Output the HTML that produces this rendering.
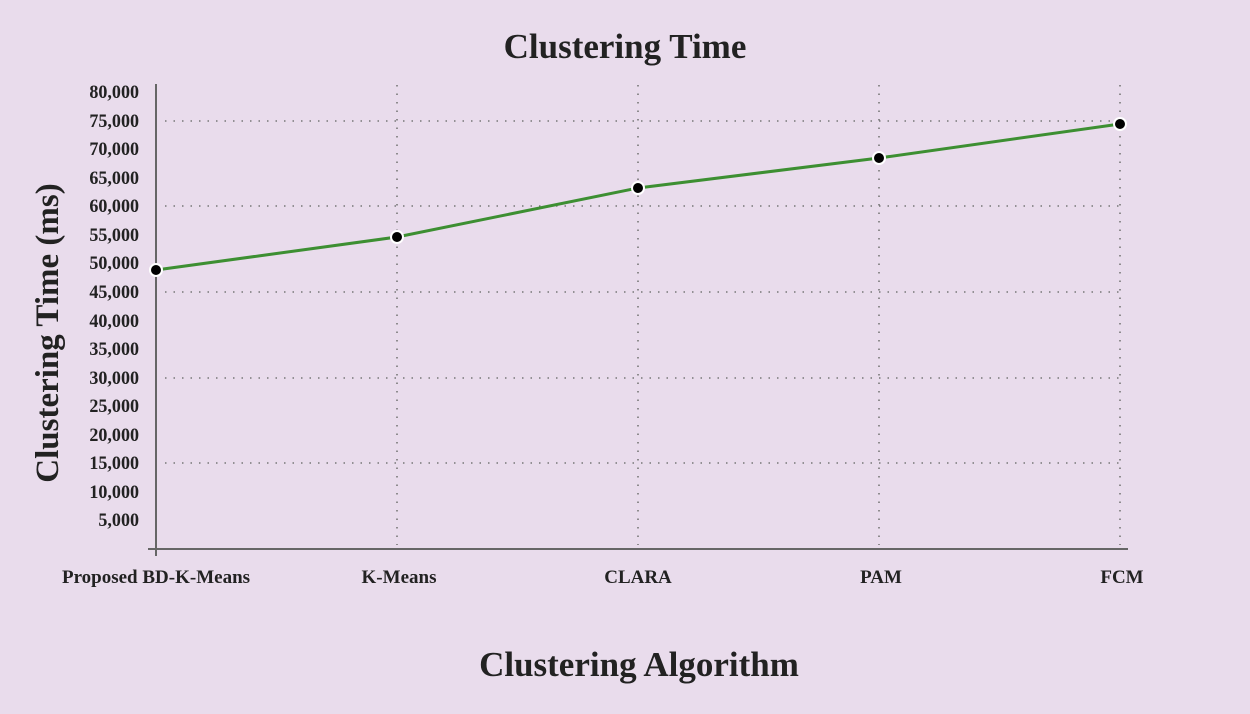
<!DOCTYPE html>
<html><head><style>
html,body{margin:0;padding:0;background:#e9dcec;}
svg{display:block;font-family:"Liberation Serif",serif;font-weight:bold;}
</style></head><body>
<svg width="1250" height="714" viewBox="0 0 1250 714">
<rect width="1250" height="714" fill="#e9dcec"/>
<text x="625" y="58" text-anchor="middle" font-size="35" fill="#222">Clustering Time</text>
<text x="639" y="676" text-anchor="middle" font-size="35" fill="#222">Clustering Algorithm</text>
<text transform="translate(58,333) rotate(-90)" text-anchor="middle" font-size="33" fill="#222">Clustering Time (ms)</text>
<g stroke="#777" stroke-width="1.6" stroke-dasharray="1.5,7">
<line x1="165" y1="121" x2="1125" y2="121"/>
<line x1="165" y1="206" x2="1125" y2="206"/>
<line x1="165" y1="292" x2="1125" y2="292"/>
<line x1="165" y1="378" x2="1125" y2="378"/>
<line x1="165" y1="463" x2="1125" y2="463"/>
<line x1="397" y1="85" x2="397" y2="545"/>
<line x1="638" y1="85" x2="638" y2="545"/>
<line x1="879" y1="85" x2="879" y2="545"/>
<line x1="1120" y1="85" x2="1120" y2="545"/>
</g>
<line x1="156" y1="84" x2="156" y2="556" stroke="#666" stroke-width="2"/>
<line x1="148" y1="549" x2="1128" y2="549" stroke="#666" stroke-width="2"/>
<g font-size="19" fill="#222" text-anchor="end" transform="translate(139,0) scale(0.95,1) translate(-139,0)">
<text x="139" y="98">80,000</text><text x="139" y="127">75,000</text><text x="139" y="155">70,000</text>
<text x="139" y="184">65,000</text><text x="139" y="212">60,000</text><text x="139" y="241">55,000</text>
<text x="139" y="269">50,000</text><text x="139" y="298">45,000</text><text x="139" y="327">40,000</text>
<text x="139" y="355">35,000</text><text x="139" y="384">30,000</text><text x="139" y="412">25,000</text>
<text x="139" y="441">20,000</text><text x="139" y="469">15,000</text><text x="139" y="498">10,000</text>
<text x="139" y="526">5,000</text>
</g>
<g font-size="19" fill="#222" text-anchor="middle">
<text x="156" y="583">Proposed BD-K-Means</text><text x="399" y="583">K-Means</text>
<text x="638" y="583">CLARA</text><text x="881" y="583">PAM</text><text x="1122" y="583">FCM</text>
</g>
<polyline points="156,270 397,237 638,188 879,158 1120,124" fill="none" stroke="#3d8f32" stroke-width="3"/>
<g fill="#000" stroke="#fff" stroke-width="2">
<circle cx="156" cy="270" r="6"/><circle cx="397" cy="237" r="6"/><circle cx="638" cy="188" r="6"/>
<circle cx="879" cy="158" r="6"/><circle cx="1120" cy="124" r="6"/>
</g>
</svg>
</body></html>
